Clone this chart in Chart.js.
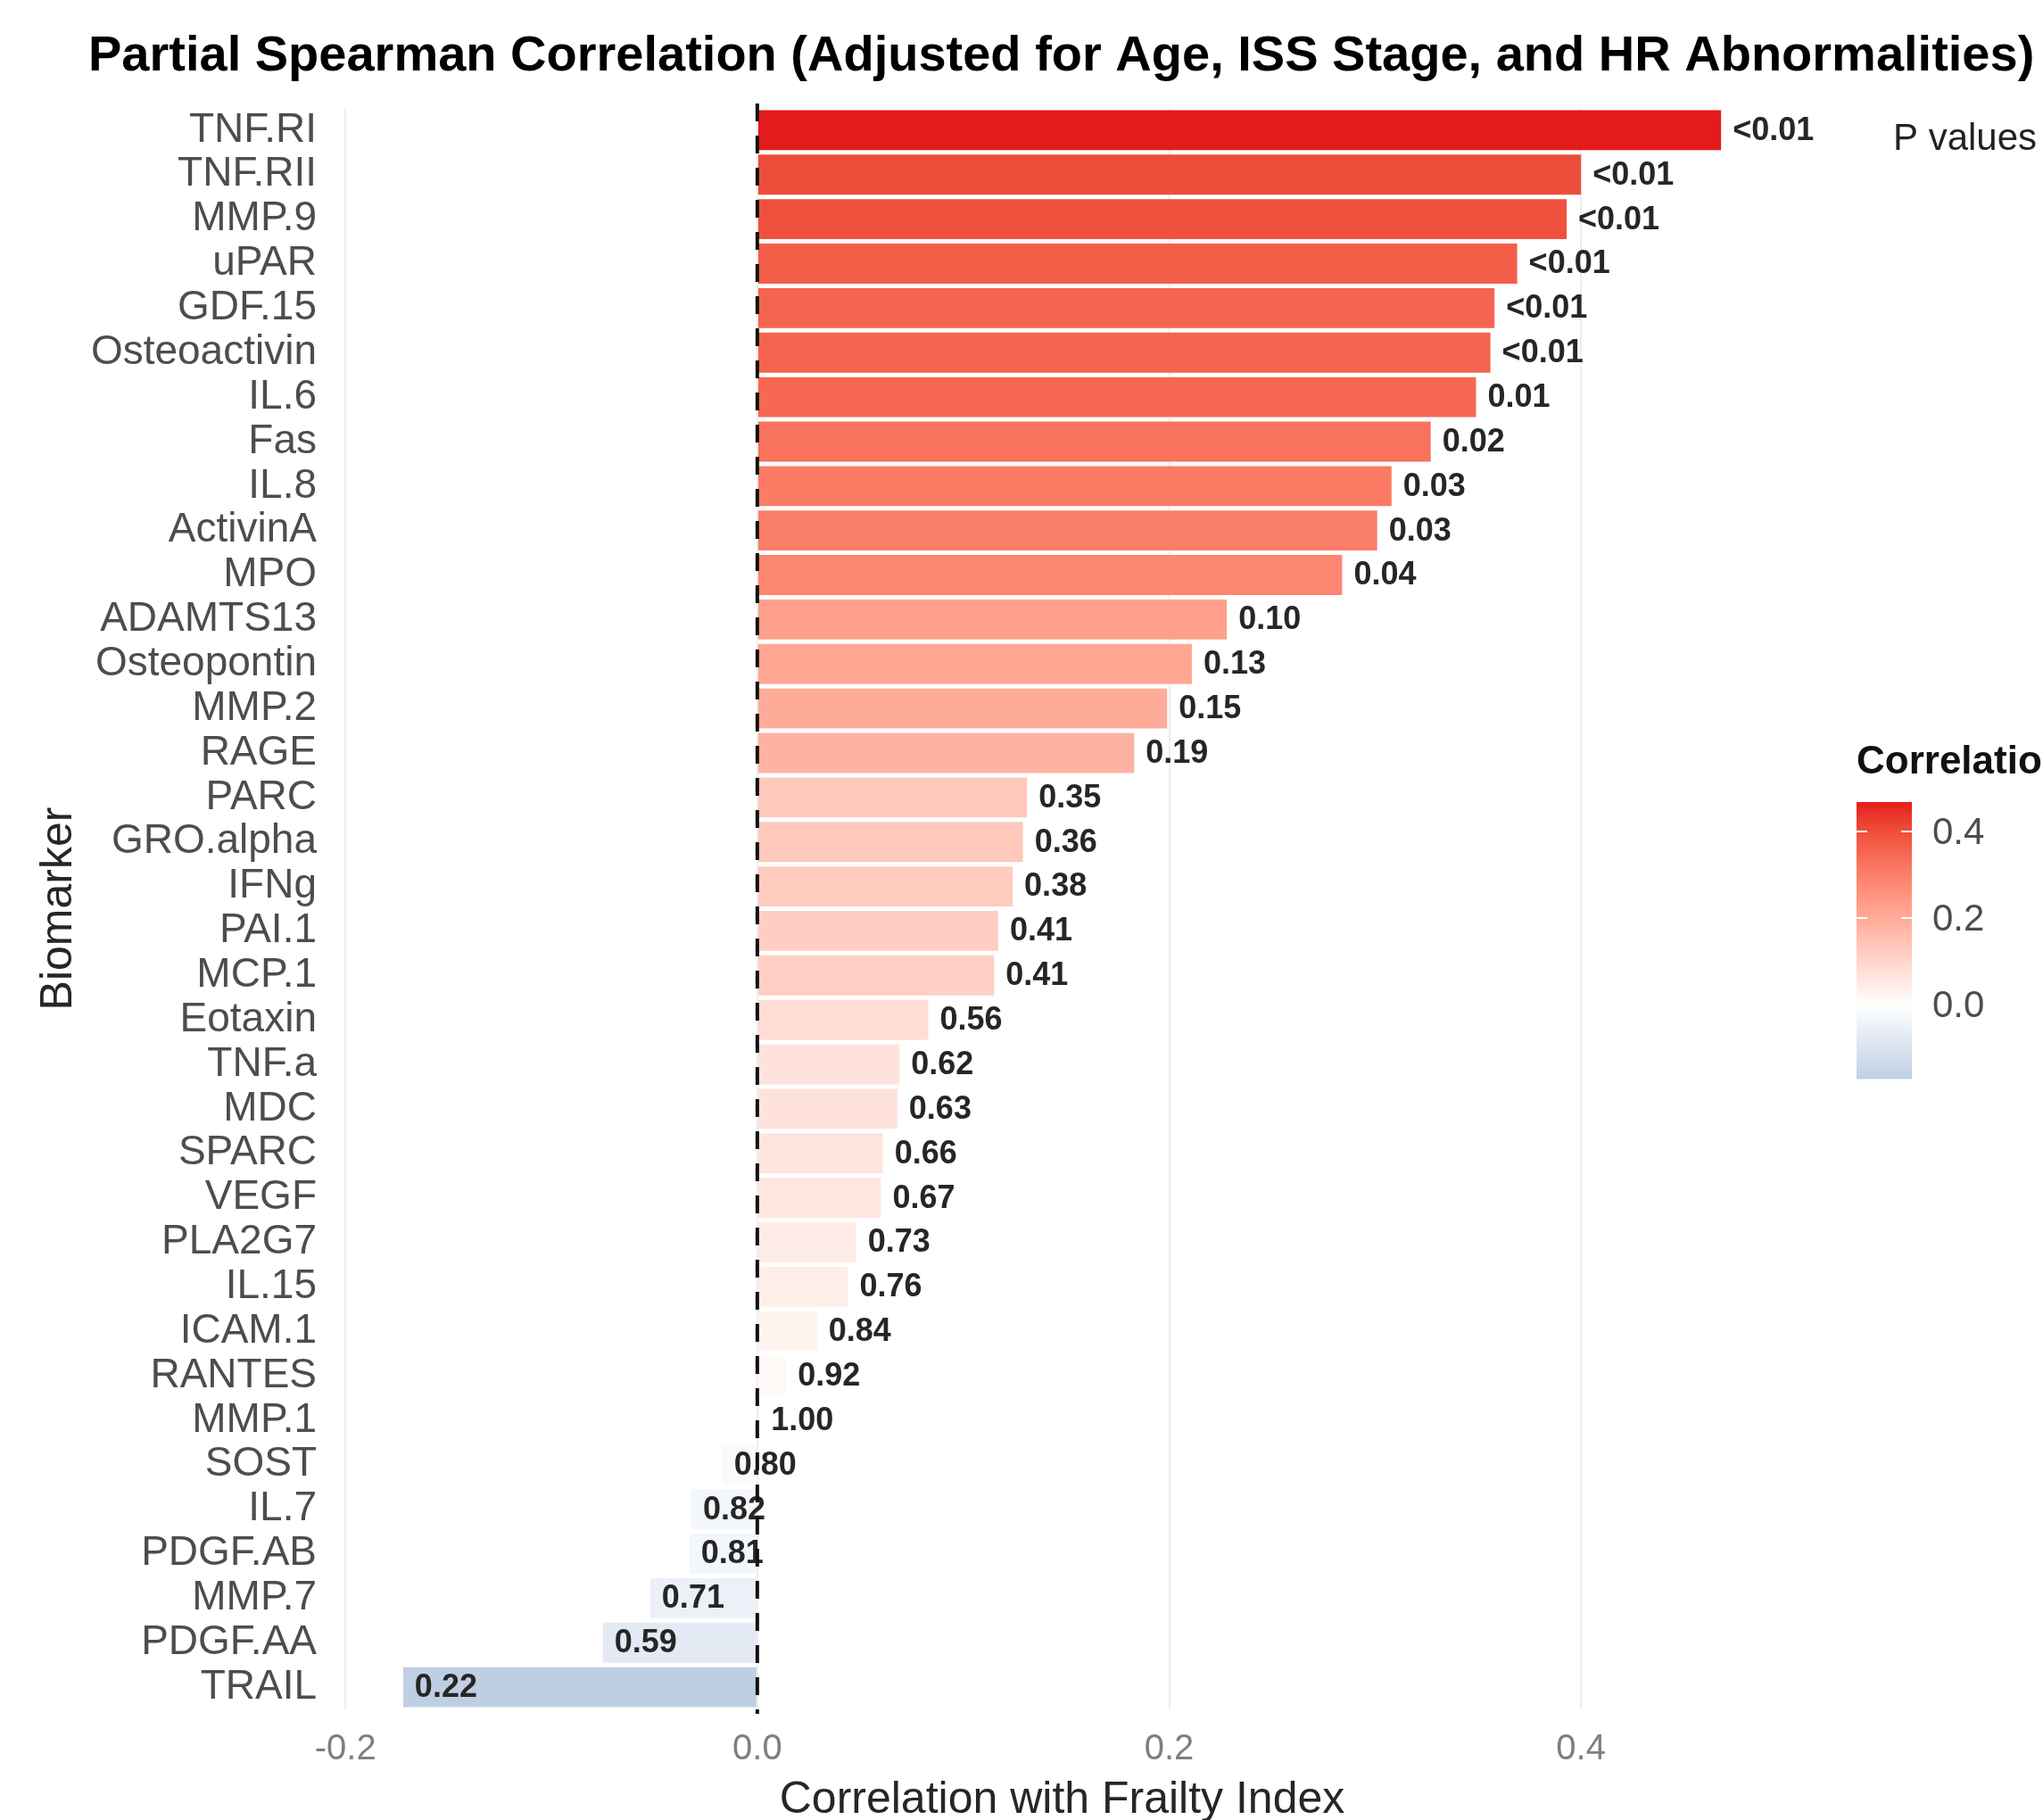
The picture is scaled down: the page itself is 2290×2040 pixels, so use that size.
<!DOCTYPE html>
<html>
<head>
<meta charset="utf-8">
<title>Partial Spearman Correlation</title>
<script src="https://cdn.jsdelivr.net/npm/chart.js@4.4.1/dist/chart.umd.min.js"></script>
<style>
  html, body { margin: 0; padding: 0; background: #ffffff; }
  #wrap { width: 2290px; height: 2040px; position: relative; }
</style>
</head>
<body>
<div id="wrap"><canvas id="chart" width="2290" height="2040"></canvas></div>
<script>
// Biomarkers, ordered from strongest positive to strongest negative partial correlation
const biomarkers = [
  'TNF.RI', 'TNF.RII', 'MMP.9', 'uPAR', 'GDF.15', 'Osteoactivin', 'IL.6', 'Fas', 'IL.8',
  'ActivinA', 'MPO', 'ADAMTS13', 'Osteopontin', 'MMP.2', 'RAGE', 'PARC', 'GRO.alpha', 'IFNg',
  'PAI.1', 'MCP.1', 'Eotaxin', 'TNF.a', 'MDC', 'SPARC', 'VEGF', 'PLA2G7', 'IL.15', 'ICAM.1',
  'RANTES', 'MMP.1', 'SOST', 'IL.7', 'PDGF.AB', 'MMP.7', 'PDGF.AA', 'TRAIL'
];

// Partial Spearman correlation with the frailty index
const correlations = [
  0.468, 0.400, 0.393, 0.369, 0.358, 0.356, 0.349, 0.327, 0.308,
  0.301, 0.284, 0.228, 0.211, 0.199, 0.183, 0.131, 0.129, 0.124,
  0.117, 0.115, 0.083, 0.069, 0.068, 0.061, 0.060, 0.048, 0.044, 0.029,
  0.014, 0.001, -0.017, -0.032, -0.033, -0.052, -0.075, -0.172
];

// P value printed next to each bar
const pValues = [
  '<0.01', '<0.01', '<0.01', '<0.01', '<0.01', '<0.01', '0.01', '0.02', '0.03',
  '0.03', '0.04', '0.10', '0.13', '0.15', '0.19', '0.35', '0.36', '0.38',
  '0.41', '0.41', '0.56', '0.62', '0.63', '0.66', '0.67', '0.73', '0.76', '0.84',
  '0.92', '1.00', '0.80', '0.82', '0.81', '0.71', '0.59', '0.22'
];

// Axis ticks
const xTicks = [-0.2, 0.0, 0.2, 0.4];
const legendTicks = [0.4, 0.2, 0.0];

const FONT = "'Liberation Sans', Arial, Helvetica, sans-serif";

// ---- diverging colour scale (low / white / high), interpolated in CIE Lab ----
const LOW = '#4682B4', MID = '#FFFFFF', HIGH = '#E41A1C';

function hexToRgb(h) {
  const n = parseInt(h.slice(1), 16);
  return [(n >> 16) & 255, (n >> 8) & 255, n & 255];
}
function toLin(c) { c /= 255; return c <= 0.04045 ? c / 12.92 : Math.pow((c + 0.055) / 1.055, 2.4); }
function fromLin(c) {
  const v = c <= 0.0031308 ? 12.92 * c : 1.055 * Math.pow(c, 1 / 2.4) - 0.055;
  return Math.max(0, Math.min(255, Math.round(v * 255)));
}
function rgbToLab(rgb) {
  const [r, g, b] = rgb.map(toLin);
  const X = (0.4124 * r + 0.3576 * g + 0.1805 * b) / 0.95047;
  const Y = (0.2126 * r + 0.7152 * g + 0.0722 * b);
  const Z = (0.0193 * r + 0.1192 * g + 0.9505 * b) / 1.08883;
  const f = t => t > 0.008856 ? Math.cbrt(t) : 7.787 * t + 16 / 116;
  const fx = f(X), fy = f(Y), fz = f(Z);
  return [116 * fy - 16, 500 * (fx - fy), 200 * (fy - fz)];
}
function labToRgb(lab) {
  const fy = (lab[0] + 16) / 116, fx = fy + lab[1] / 500, fz = fy - lab[2] / 200;
  const inv = t => t > 0.206893 ? t * t * t : (t - 16 / 116) / 7.787;
  const X = inv(fx) * 0.95047, Y = inv(fy), Z = inv(fz) * 1.08883;
  const r = 3.2406 * X - 1.5372 * Y - 0.4986 * Z;
  const g = -0.9689 * X + 1.8758 * Y + 0.0415 * Z;
  const b = 0.0557 * X - 0.2040 * Y + 1.0570 * Z;
  return [fromLin(r), fromLin(g), fromLin(b)];
}
const labLow = rgbToLab(hexToRgb(LOW)), labMid = rgbToLab(hexToRgb(MID)), labHigh = rgbToLab(hexToRgb(HIGH));
const maxAbs = Math.max(...correlations.map(Math.abs));

function colorFor(v) {
  const t = Math.min(1, Math.abs(v) / maxAbs);
  const end = v >= 0 ? labHigh : labLow;
  const lab = labMid.map((m, i) => m + (end[i] - m) * t);
  const [r, g, b] = labToRgb(lab);
  return `rgb(${r},${g},${b})`;
}
const barColors = correlations.map(colorFor);

// ---- plugin: title, p-value labels, zero line and the colour legend ----
const decorations = {
  id: 'decorations',
  afterDatasetsDraw(chart) {
    const ctx = chart.ctx;
    const meta = chart.getDatasetMeta(0);
    const xs = chart.scales.x;
    const area = chart.chartArea;

    // p-value labels, left-aligned just past each bar end
    ctx.save();
    ctx.font = `bold 36px ${FONT}`;
    ctx.fillStyle = '#262626';
    ctx.textAlign = 'left';
    ctx.textBaseline = 'middle';
    meta.data.forEach((bar, i) => {
      ctx.fillText(pValues[i], bar.x + 13, bar.y + 1);
    });
    ctx.restore();

    // dashed reference line at zero
    const x0 = xs.getPixelForValue(0);
    const pitch = (area.bottom - area.top) / biomarkers.length;
    ctx.save();
    ctx.strokeStyle = '#111111';
    ctx.lineWidth = 4;
    ctx.setLineDash([20, 16]);
    ctx.beginPath();
    ctx.moveTo(x0, area.top - 0.1 * pitch);
    ctx.lineTo(x0, area.bottom + 0.1 * pitch);
    ctx.stroke();
    ctx.restore();
  },
  afterDraw(chart) {
    const ctx = chart.ctx;
    ctx.save();

    // chart title
    ctx.font = `bold 56px ${FONT}`;
    ctx.fillStyle = '#000000';
    ctx.textAlign = 'left';
    ctx.textBaseline = 'middle';
    ctx.fillText('Partial Spearman Correlation (Adjusted for Age, ISS Stage, and HR Abnormalities)', 99, 64);

    // legend title for the label layer
    ctx.font = `42px ${FONT}`;
    ctx.fillStyle = '#222222';
    ctx.fillText('P values', 2122, 156);

    // colour bar legend
    const barLeft = 2081, barRight = 2143;
    const vMax = Math.max(...correlations), vMin = Math.min(...correlations);
    const yZero = 1126, pxPerUnit = 485;
    const yOf = v => yZero - v * pxPerUnit;
    const top = yOf(vMax), bottom = yOf(vMin);

    ctx.font = `bold 44px ${FONT}`;
    ctx.fillStyle = '#111111';
    ctx.fillText('Correlation', barLeft, 855);

    const grad = ctx.createLinearGradient(0, top, 0, bottom);
    const steps = 40;
    for (let k = 0; k <= steps; k++) {
      const v = vMax - (vMax - vMin) * k / steps;
      grad.addColorStop(k / steps, colorFor(v));
    }
    ctx.fillStyle = grad;
    ctx.fillRect(barLeft, top, barRight - barLeft, bottom - top);

    ctx.strokeStyle = '#ffffff';
    ctx.lineWidth = 2;
    ctx.font = `42px ${FONT}`;
    ctx.fillStyle = '#4d4d4d';
    legendTicks.forEach(v => {
      const y = yOf(v);
      ctx.beginPath();
      ctx.moveTo(barLeft, y); ctx.lineTo(barLeft + 12, y);
      ctx.moveTo(barRight - 12, y); ctx.lineTo(barRight, y);
      ctx.stroke();
      ctx.fillText(v.toFixed(1), 2166, y + 2);
    });
    ctx.restore();
  }
};

Chart.defaults.font.family = FONT;

new Chart(document.getElementById('chart'), {
  type: 'bar',
  data: {
    labels: biomarkers,
    datasets: [{
      data: correlations,
      backgroundColor: barColors,
      borderWidth: 0,
      barPercentage: 0.9,
      categoryPercentage: 1.0
    }]
  },
  options: {
    indexAxis: 'y',
    responsive: false,
    animation: false,
    devicePixelRatio: 1,
    layout: { padding: { top: 121, right: 287, bottom: 0, left: 0 } },
    plugins: {
      legend: { display: false },
      tooltip: { enabled: false },
      title: { display: false }
    },
    scales: {
      x: {
        type: 'linear',
        min: -0.204,
        max: 0.5,
        afterBuildTicks: s => { s.ticks = xTicks.map(v => ({ value: v })); },
        afterFit: s => { s.height = 124; },
        ticks: {
          callback: v => Number(v).toFixed(1),
          font: { size: 40 },
          color: '#7f7f7f',
          padding: 21
        },
        grid: { color: '#eeeeee', lineWidth: 2, drawTicks: false },
        border: { display: false },
        title: {
          display: true,
          text: 'Correlation with Frailty Index',
          font: { size: 50, lineHeight: 0.8 },
          color: '#262626',
          padding: { top: 0, bottom: 2 }
        }
      },
      y: {
        type: 'category',
        offset: true,
        afterFit: s => { s.width = 378; },
        ticks: {
          autoSkip: false,
          font: { size: 46 },
          color: '#4d4d4d',
          padding: 23
        },
        grid: { display: false, drawTicks: false },
        border: { display: false },
        title: {
          display: true,
          text: 'Biomarker',
          font: { size: 50 },
          color: '#262626',
          padding: { top: 36, bottom: 0 }
        }
      }
    }
  },
  plugins: [decorations]
});
</script>
</body>
</html>
